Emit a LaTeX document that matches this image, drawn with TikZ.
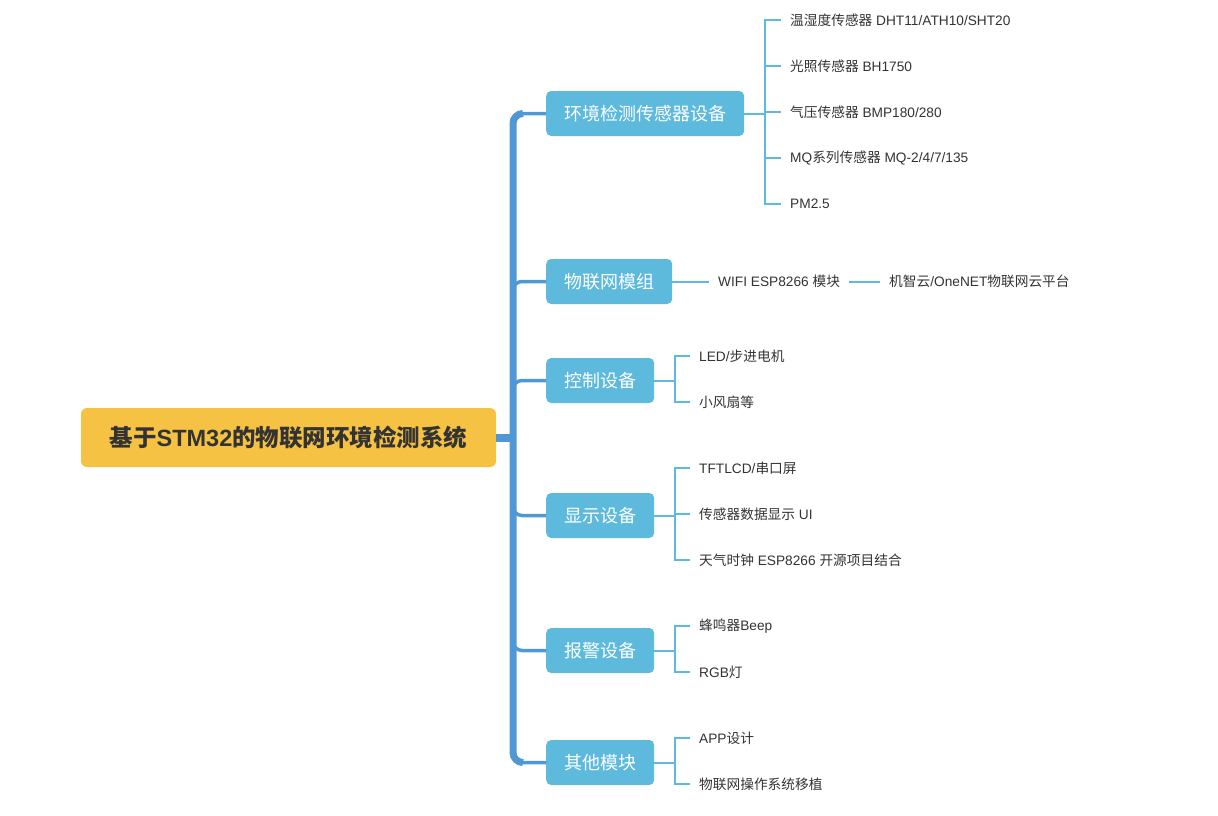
\documentclass[tikz,border=0pt]{standalone}
\usepackage{fontspec}
\setmainfont{Liberation Sans}
\newfontfamily\cjkfont{Noto Sans CJK SC}
% CJK characters in Noto, the rest in Liberation Sans
\XeTeXinterchartokenstate=1
\newXeTeXintercharclass\cjkclass
\count255="4E00
\loop
\XeTeXcharclass\count255=\cjkclass
\advance\count255 by 1
\ifnum\count255<"A000 \repeat
\XeTeXinterchartoks 0 \cjkclass = {\cjkfont}
\XeTeXinterchartoks 4095 \cjkclass = {\cjkfont}
\XeTeXinterchartoks \cjkclass 0 = {\rmfamily}
\XeTeXinterchartoks \cjkclass 4095 = {\rmfamily}
\usetikzlibrary{positioning}
\definecolor{rootcol}{HTML}{F5C243}
\definecolor{boxcol}{HTML}{5DBADD}
\definecolor{trunkcol}{HTML}{4F98D3}
\definecolor{txtcol}{HTML}{333333}

\begin{document}
\begin{tikzpicture}
		[   x=1pt,y=-1pt,
			rnode/.style={fill=rootcol,rounded corners=6pt,minimum width=415pt,minimum height=59pt,text=txtcol,font=\fontsize{23.5}{26}\selectfont\bfseries},
			cnode/.style={fill=boxcol,rounded corners=5pt,minimum height=45pt,inner xsep=18pt,text=white,anchor=west,font=\fontsize{18}{21}\selectfont},
			lnode/.style={anchor=west,inner xsep=9pt,inner ysep=0pt,text=txtcol,font=\fontsize{13.7}{16}\selectfont},
		]
		\tikzset{trunk/.style={draw=trunkcol,line width=7pt,rounded corners=10pt},
			branch/.style={draw=trunkcol,line width=3.5pt,rounded corners=9pt},
			twig/.style={draw=boxcol,line width=2pt}}
		\useasboundingbox (0,0) rectangle (1218,816);
		
		\node[rnode] (root) at (288.5,437.5) {基于STM32的物联网环境检测系统};
		
		\node[cnode] (c-1) at (546,113.5) {环境检测传感器设备};
		\node[cnode] (c-2) at (546,281.5) {物联网模组};
		\node[cnode] (c-3) at (546,380.5) {控制设备};
		\node[cnode] (c-4) at (546,515.5) {显示设备};
		\node[cnode] (c-5) at (546,650.5) {报警设备};
		\node[cnode] (c-6) at (546,762.5) {其他模块};
		
		% sensors
		\foreach \t [count=\i] in {温湿度传感器 DHT11/ATH10/SHT20,光照传感器 BH1750,气压传感器 BMP180/280,MQ系列传感器 MQ-2/4/7/135,PM2.5}
		{
			\node[lnode] (s-\i) at (781,{20+46*(\i-1)}) {\t};
		}
		
		% iot
		\node[lnode] (w-1) at (709,281.5) {WIFI ESP8266 模块};
		\node[lnode] (w-2) at (880,281.5) {机智云/OneNET物联网云平台};
		
		\node[lnode] (k-1) at (690,356) {LED/步进电机};
		\node[lnode] (k-2) at (690,402) {小风扇等};
		
		\node[lnode] (d-1) at (690,468) {TFTLCD/串口屏};
		\node[lnode] (d-2) at (690,514) {传感器数据显示 UI};
		\node[lnode] (d-3) at (690,560) {天气时钟 ESP8266 开源项目结合};
		
		\node[lnode] (a-1) at (690,626) {蜂鸣器Beep};
		\node[lnode] (a-2) at (690,672) {RGB灯};
		
		\node[lnode] (o-1) at (690,738) {APP设计};
		\node[lnode] (o-2) at (690,784) {物联网操作系统移植};
		
		\coordinate (hub) at (513,437.5);
		\coordinate (j-1) at (765,113.5);
		\coordinate (j-3) at (674.5,380.5);
		\coordinate (j-4) at (674.5,515.5);
		\coordinate (j-5) at (674.5,650.5);
		\coordinate (j-6) at (674.5,762.5);
		
		\draw[draw=trunkcol,line width=8pt] (root.east) -- (hub);
		\path[trunk] ([xshift=-23pt]c-1.west) -| (hub) |- ([xshift=-23pt]c-6.west);
		\foreach \x in {1,...,6}
		{
			\path[branch] (hub) |- (c-\x.west);
		}
		
		\path[twig] (c-1.east) -- (j-1);
		\foreach \y in {1,...,5}
		{
			\path[twig] (j-1) |- (s-\y.west);
		}
		
		\path[twig] (c-2.east) -- (w-1.west);
		\path[twig] (w-1.east) -- (w-2.west);
		
		\foreach \g/\n in {3/k,5/a,6/o}
		{
			\path[twig] (c-\g.east) -- (j-\g);
			\foreach \y in {1,2}
			{
				\path[twig] (j-\g) |- (\n-\y.west);
			}
		}
		\path[twig] (c-4.east) -- (j-4);
		\foreach \y in {1,...,3}
		{
			\path[twig] (j-4) |- (d-\y.west);
		}
\end{tikzpicture}
\end{document}
